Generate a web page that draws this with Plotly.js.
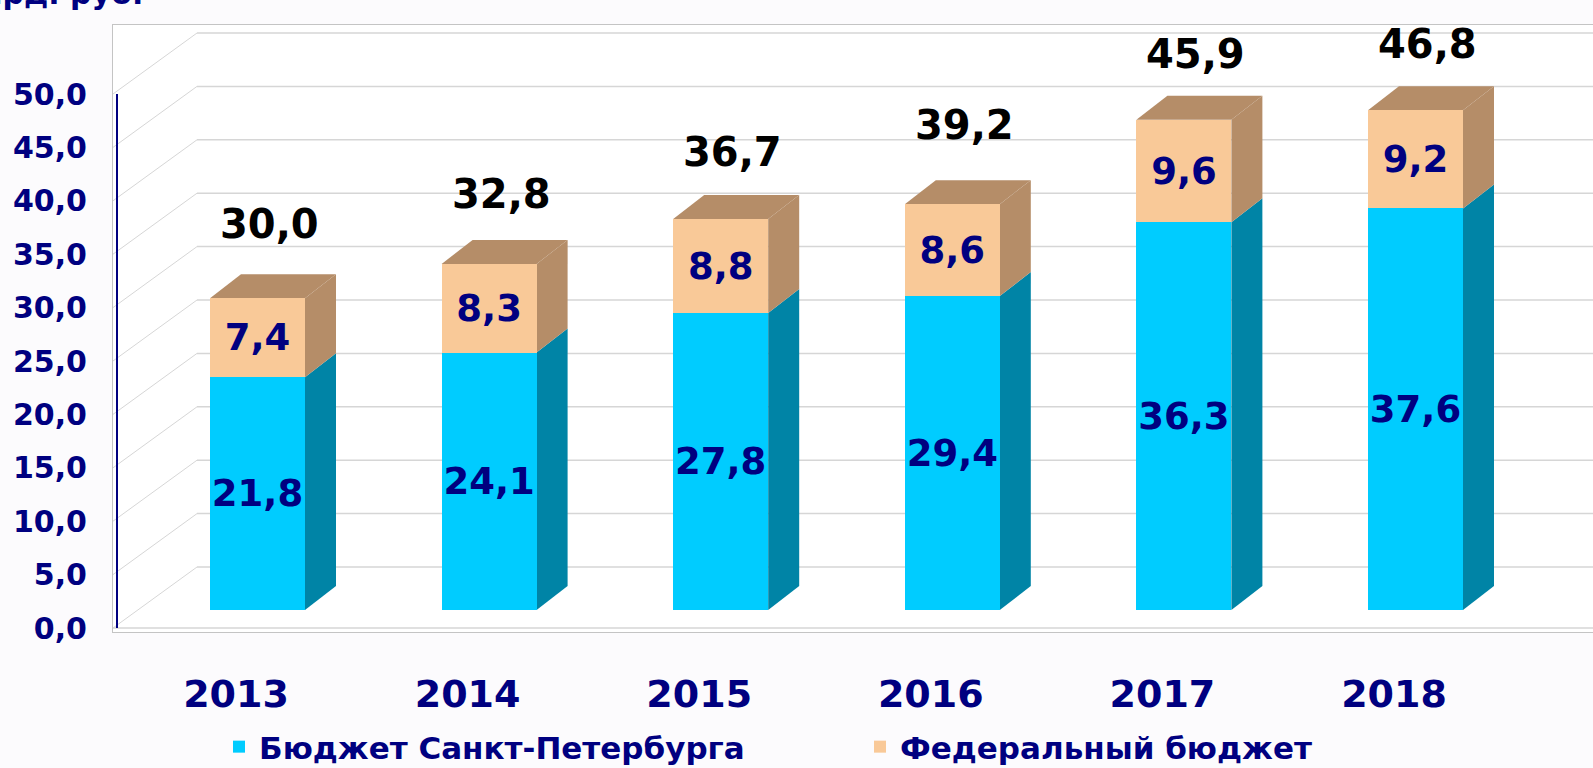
<!DOCTYPE html>
<html>
<head>
<meta charset="utf-8">
<script src="https://cdn.plot.ly/plotly-3.0.1.min.js"></script>
<style>html,body{margin:0;padding:0;background:#fcfbfd;}</style>
</head>
<body>
<div id="chart" style="width:1593px;height:768px;"></div>
<script>
// ---- data ----
const years = ['2013', '2014', '2015', '2016', '2017', '2018'];
const spbBudget = [21.8, 24.1, 27.8, 29.4, 36.3, 37.6];
const fedBudget = [7.4, 8.3, 8.8, 8.6, 9.6, 9.2];
const totals = [30.0, 32.8, 36.7, 39.2, 45.9, 46.8];
const yTicks = [0, 5, 10, 15, 20, 25, 30, 35, 40, 45, 50];
const seriesNames = ['Бюджет Санкт-Петербурга', 'Федеральный бюджет'];
const unitLabel = 'млрд. руб.';

// ---- geometry (pixels) ----
const W = 1593, H = 768;
const PLOT = {l: 113, r: 1593, t: 25, b: 632};
const CAT_PX = 231.6, CAT0_PX = 236;
const UNIT_PX = 10.68, FLOOR_PX = 610;
const FRONT_PX = 628, BACK_PX = 567, BACK_X_PX = 197;
const BAR_W_PX = 95, BAR_SHIFT_PX = 21.5, DEPTH_X_PX = 31, DEPTH_Y_PX = 24;

const xr0 = -(CAT0_PX - PLOT.l) / CAT_PX;
const xr1 = xr0 + (PLOT.r - PLOT.l) / CAT_PX;
const yr0 = -(PLOT.b - FLOOR_PX) / UNIT_PX;
const yr1 = (FLOOR_PX - PLOT.t) / UNIT_PX;
const pxToX = px => xr0 + (px - PLOT.l) / CAT_PX;
const pxToY = py => (FLOOR_PX - py) / UNIT_PX;
const frontOff = pxToY(FRONT_PX);
const backOff = pxToY(BACK_PX);
const xBack = pxToX(BACK_X_PX);
const barW = BAR_W_PX / CAT_PX;
const barOffset = BAR_SHIFT_PX / CAT_PX - barW / 2;
const dx = DEPTH_X_PX / CAT_PX;
const dy = DEPTH_Y_PX / UNIT_PX;

const fmt = v => v.toFixed(1).replace('.', ',');
const idx = years.map((_, i) => i);

const NAVY = '#000080';
const FONT = 'DejaVu Sans, Verdana, sans-serif';
const colors = {
  spbFront: '#00ccff', spbSide: '#0084a6',
  fedFront: '#f9c998', fedSide: '#b58d68'
};

const barCommon = {
  type: 'bar', x: idx, width: barW, offset: barOffset,
  textposition: 'inside', insidetextanchor: 'middle', textangle: 0,
  constraintext: 'none', hoverinfo: 'skip',
  textfont: {family: FONT, size: 37, color: NAVY, weight: 'bold'}
};
const traces = [
  Object.assign({}, barCommon, {
    name: seriesNames[0], y: spbBudget, text: spbBudget.map(fmt),
    marker: {color: colors.spbFront, line: {width: 0}}
  }),
  Object.assign({}, barCommon, {
    name: seriesNames[1], y: fedBudget, text: fedBudget.map(fmt),
    marker: {color: colors.fedFront, line: {width: 0}}
  })
];

// ---- walls, gridlines and 3D faces ----
const shapes = [];
const GRID = '#d6d6d6';
yTicks.forEach(v => {
  shapes.push({type: 'line', xref: 'x', yref: 'y', layer: 'below',
    x0: xr0, y0: v + frontOff, x1: xBack, y1: v + backOff,
    line: {color: GRID, width: 1}});
  shapes.push({type: 'line', xref: 'x', yref: 'y', layer: 'below',
    x0: xBack, y0: v + backOff, x1: xr1, y1: v + backOff,
    line: {color: GRID, width: 1.5}});
});
// front floor edge
shapes.push({type: 'line', xref: 'x', yref: 'y', layer: 'below',
  x0: xr0, y0: frontOff, x1: xr1, y1: frontOff, line: {color: GRID, width: 1.5}});
// vertical axis line
shapes.push({type: 'line', xref: 'x', yref: 'y', layer: 'above',
  x0: pxToX(PLOT.l + 4), y0: frontOff, x1: pxToX(PLOT.l + 4), y1: yTicks[yTicks.length - 1] + frontOff,
  line: {color: NAVY, width: 2}});

const poly = pts => 'M' + pts.map(p => p[0].toFixed(4) + ',' + p[1].toFixed(4)).join(' L') + ' Z';
idx.forEach(i => {
  const xl = i + barOffset, xr = xl + barW;
  const b0 = 0, b1 = spbBudget[i], b2 = spbBudget[i] + fedBudget[i];
  shapes.push({type: 'path', xref: 'x', yref: 'y', layer: 'below',
    path: poly([[xr, b0], [xr + dx, b0 + dy], [xr + dx, b1 + dy], [xr, b1]]),
    fillcolor: colors.spbSide, line: {width: 0}});
  shapes.push({type: 'path', xref: 'x', yref: 'y', layer: 'below',
    path: poly([[xr, b1], [xr + dx, b1 + dy], [xr + dx, b2 + dy], [xr, b2]]),
    fillcolor: colors.fedSide, line: {width: 0}});
  shapes.push({type: 'path', xref: 'x', yref: 'y', layer: 'below',
    path: poly([[xl, b2], [xl + dx, b2 + dy], [xr + dx, b2 + dy], [xr, b2]]),
    fillcolor: colors.fedSide, line: {width: 0}});
});

// ---- annotations ----
const annotations = idx.map(i => ({
  x: i + barOffset + barW / 2, y: totals[i], xref: 'x', yref: 'y',
  text: fmt(totals[i]), showarrow: false, xshift: 12, yshift: 66,
  font: {family: FONT, size: 40, color: '#000000', weight: 'bold'}
}));
annotations.push({
  xref: 'paper', yref: 'paper', x: (145 - PLOT.l) / (PLOT.r - PLOT.l),
  y: (PLOT.b - 13) / (PLOT.b - PLOT.t), xanchor: 'right', yanchor: 'bottom',
  text: unitLabel, showarrow: false,
  font: {family: FONT, size: 30, color: NAVY, weight: 'bold'}
});

const layout = {
  width: W, height: H, autosize: false,
  margin: {l: PLOT.l, r: W - PLOT.r, t: PLOT.t, b: H - PLOT.b, autoexpand: false},
  paper_bgcolor: '#fcfbfd', plot_bgcolor: '#ffffff',
  barmode: 'stack', bargap: 0, separators: ', ',
  showlegend: true,
  legend: {
    orientation: 'h', x: (219 - PLOT.l) / (PLOT.r - PLOT.l), xanchor: 'left',
    y: -(747 - PLOT.b) / (PLOT.b - PLOT.t), yanchor: 'middle',
    entrywidth: 596, entrywidthmode: 'pixels', traceorder: 'normal',
    bgcolor: 'rgba(0,0,0,0)',
    font: {family: FONT, size: 31, color: NAVY, weight: 'bold'}
  },
  xaxis: {
    type: 'linear', range: [xr0, xr1], tickvals: idx, ticktext: years,
    showgrid: false, zeroline: false, showline: true, mirror: true,
    linecolor: '#c4c4c4', linewidth: 1, ticks: '', ticklabelstandoff: 28,
    tickfont: {family: FONT, size: 38, color: NAVY, weight: 'bold'}, fixedrange: true
  },
  yaxis: {
    range: [yr0, yr1], tickvals: yTicks.map(v => v + frontOff), ticktext: yTicks.map(fmt),
    showgrid: false, zeroline: false, showline: true, mirror: true,
    linecolor: '#c4c4c4', linewidth: 1, ticks: '', ticklabelstandoff: 19,
    tickfont: {family: FONT, size: 30, color: NAVY, weight: 'bold'}, fixedrange: true
  },
  shapes: shapes,
  annotations: annotations
};

Plotly.newPlot('chart', traces, layout, {displayModeBar: false, staticPlot: true});
</script>
</body>
</html>
